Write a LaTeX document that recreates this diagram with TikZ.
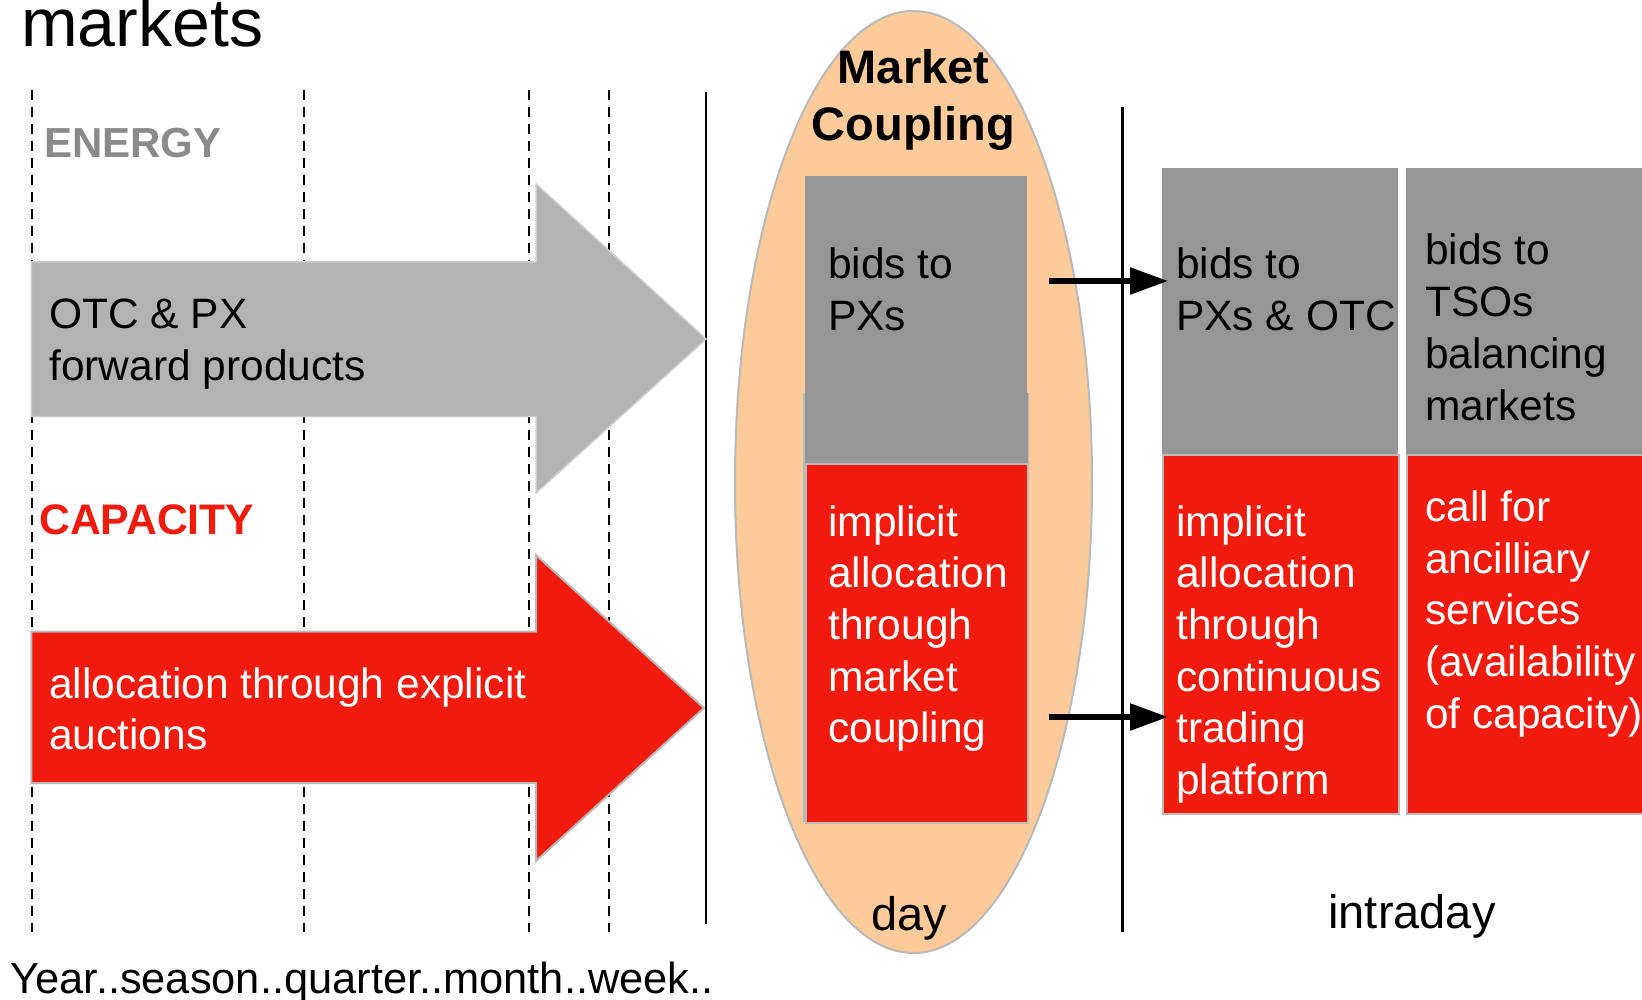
\documentclass[tikz,border=0pt]{standalone}
\usepackage{fontspec}
\setmainfont{Liberation Sans}
\usetikzlibrary{arrows.meta,shapes.geometric}
\definecolor{arrgray}{RGB}{179,179,179}
\definecolor{arredge}{RGB}{205,205,205}
\definecolor{boxgray}{RGB}{150,150,150}
\definecolor{mred}{RGB}{240,27,12}
\definecolor{peach}{RGB}{253,202,153}
\definecolor{edgegray}{RGB}{185,185,185}
\definecolor{energygray}{RGB}{138,138,138}
\newcommand{\mlines}[1]{\begin{tabular}[t]{@{}l@{}}#1\end{tabular}}
\begin{document}
\begin{tikzpicture}[x=1pt,y=-1pt,
  txt/.style={inner sep=0pt, anchor=base west, font=\fontsize{42.5}{51.7}\selectfont},
  wtxt/.style={txt, text=white},
  ctxt/.style={inner sep=0pt, anchor=base, font=\fontsize{47}{54}\selectfont},
  dashline/.style={line width=2.3pt, dash pattern=on 10pt off 7pt},
  solidline/.style={line width=2.5pt},
  graybox/.style={fill=boxgray, inner sep=0pt, anchor=north west},
  redbox/.style={fill=mred, draw=edgegray, line width=2pt, inner sep=0pt, anchor=north west},
  conn/.style={line width=5.5pt, -{Triangle[length=38pt,width=26pt]}}
]
\useasboundingbox (0,0) rectangle (1642,1000);
\fill[white] (0,0) rectangle (1642,1000);

% title
\node[inner sep=0pt, anchor=base west, font=\fontsize{68}{78}\selectfont] (title) at (21,47) {markets};

% dashed time lines
\foreach \x/\n in {32/d1,304/d2,529/d3,609/d4}{
  \coordinate (\n t) at (\x,90); \coordinate (\n b) at (\x,932);
  \draw[dashline] (\n t) -- (\n b);
}
% solid lines
\coordinate (s1t) at (706,92); \coordinate (s1b) at (706,924);
\draw[solidline] (s1t) -- (s1b);
\coordinate (s2t) at (1122.5,107); \coordinate (s2b) at (1122.5,932);
\draw[solidline] (s2t) -- (s2b);

% big arrows
\draw[fill=arrgray, draw=arredge, line width=1.5pt] (31.4,261.8) -- (536,261.8) -- (536,184) -- (706,339) -- (536,493) -- (536,416.5) -- (31.4,416.5) -- cycle;
\draw[fill=mred, draw=edgegray, line width=2pt] (31.4,631.5) -- (536,631.5) -- (536,555) -- (704,708) -- (536,861) -- (536,783) -- (31.4,783) -- cycle;

\node[inner sep=0pt, anchor=base west, font=\fontsize{42}{48}\selectfont\bfseries, text=energygray] (energy) at (44,158) {ENERGY};
\node[inner sep=0pt, anchor=base west, font=\fontsize{42.7}{48}\selectfont\bfseries, text=mred] (capacity) at (39,534) {CAPACITY};
\node[txt] (otc) at (49,329) {\mlines{OTC \& PX\\forward products}};
\node[wtxt] (expl) at (49,698) {\mlines{allocation through explicit\\auctions}};

% market coupling ellipse
\node[ellipse, fill=peach, draw=edgegray, line width=2pt, minimum width=357pt, minimum height=942pt, inner sep=0pt] (mc) at (913.5,482) {};
\node[inner sep=0pt, anchor=base, font=\fontsize{47}{57}\selectfont\bfseries] (mct1) at (913.5,84) {Market};
\node[inner sep=0pt, anchor=base, font=\fontsize{47}{57}\selectfont\bfseries] (mct2) at (913.5,141) {Coupling};

% day boxes
\node[graybox, minimum width=222pt, minimum height=217pt] (dgray) at (805,176) {};
\node[graybox, minimum width=224pt, minimum height=429pt] (dgray2) at (804,393) {};
\draw[edgegray, line width=1.5pt] (dgray2.north west) -- (dgray2.south west) (dgray2.north east) -- (dgray2.south east);
\node[redbox, minimum width=222pt, minimum height=359pt] (dred) at (805,463) {};
\node[txt] (dgt) at (828,279) {\mlines{bids to\\PXs}};
\node[wtxt] (drt) at (828,536) {\mlines{implicit\\allocation\\through\\market\\coupling}};
\node[ctxt] (day) at (909,930) {day};

% intraday boxes
\node[graybox, minimum width=236pt, minimum height=286pt] (igray) at (1162,167.5) {};
\node[redbox, minimum width=236pt, minimum height=359pt] (ired) at (1162,453.5) {};
\node[graybox, minimum width=260pt, minimum height=286pt] (bgray) at (1406,167.5) {};
\node[redbox, minimum width=260pt, minimum height=359pt] (bred) at (1406,453.5) {};
\node[txt] (igt) at (1176,279) {\mlines{bids to\\PXs \& OTC}};
\node[wtxt] (irt) at (1176,536) {\mlines{implicit\\allocation\\through\\continuous\\trading\\platform}};
\node[txt] (bgt) at (1425,265) {\mlines{bids to\\TSOs\\balancing\\markets}};
\node[wtxt] (brt) at (1425,521.5) {\mlines{call for\\ancilliary\\services\\(availability\\of capacity)}};
\node[ctxt] (intraday) at (1412,928) {intraday};

% connectors
\coordinate (c1s) at (1049,281); \coordinate (c1e) at (1168,281);
\draw[conn] (c1s) -- (c1e);
\coordinate (c2s) at (1049,717); \coordinate (c2e) at (1168,717);
\draw[conn] (c2s) -- (c2e);

% time axis
\node[inner sep=0pt, anchor=base west, font=\fontsize{43.4}{51.7}\selectfont] (axis) at (10.5,993) {Year..season..quarter..month..week..};
\end{tikzpicture}
\end{document}
